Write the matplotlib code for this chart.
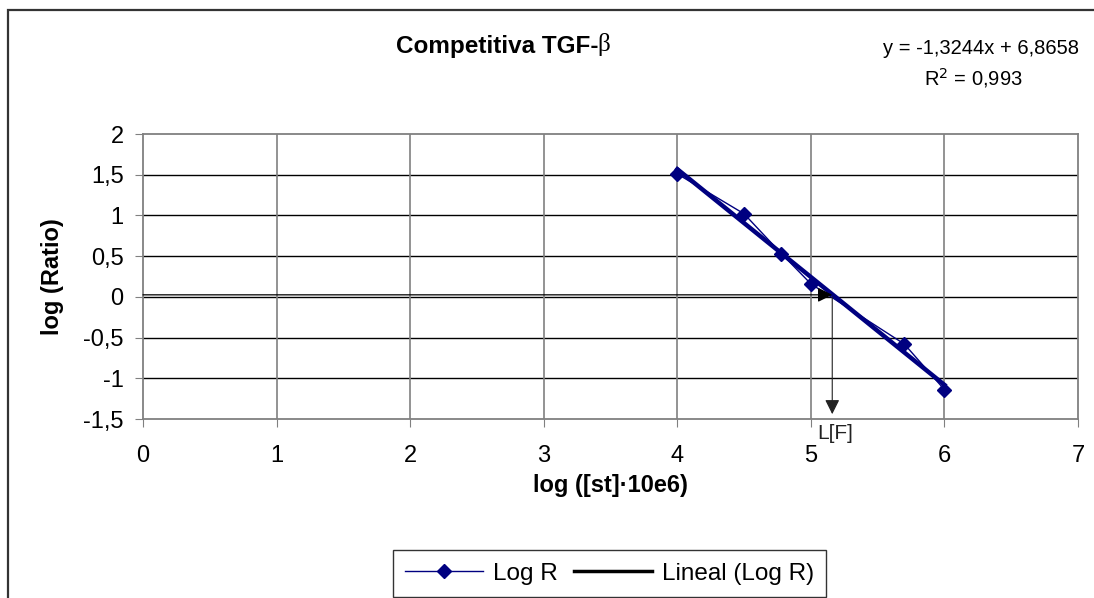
import matplotlib
matplotlib.use('Agg')
import matplotlib.pyplot as plt
from matplotlib.lines import Line2D
from matplotlib.patches import Rectangle

# data
log_st = [4.0, 4.5, 4.78, 5.0, 5.7, 6.0]
log_ratio = [1.51, 1.02, 0.53, 0.16, -0.58, -1.14]
slope = -1.3244
intercept = 6.8658
r2 = 0.993
lf_x = 5.16
x_ticks = [0, 1, 2, 3, 4, 5, 6, 7]
y_ticks = [2, 1.5, 1, 0.5, 0, -0.5, -1, -1.5]

def fmt(v):
    return ('%g' % v).replace('.', ',')

def main() -> int:
    plt.rcParams['font.family'] = ['Liberation Sans', 'DejaVu Sans']
    fig = plt.figure(figsize=(10.94, 5.98), dpi=100)
    ax = fig.add_axes([0.1307, 0.2993, 0.8547, 0.4766])

    # chart area border (cut by the image edge on right / bottom)
    fig.patches.append(Rectangle((8 / 1094, -0.1), 1.2, 1 - 10 / 598 + 0.1,
                                 transform=fig.transFigure, fill=False,
                                 edgecolor='#333333', linewidth=1.6))

    ax.set_xlim(0, 7)
    ax.set_ylim(-1.5, 2)
    ax.set_xticks(x_ticks)
    ax.set_yticks(y_ticks)
    ax.set_xticklabels([fmt(v) for v in x_ticks])
    ax.set_yticklabels([fmt(v) for v in y_ticks])
    ax.tick_params(direction='out', length=6, color='#808080', labelsize=17)
    ax.tick_params(axis='x', pad=13)
    ax.tick_params(axis='y', pad=8)
    for s in ax.spines.values():
        s.set_color('#808080')
        s.set_linewidth(1.3)

    for yv in y_ticks:
        if -1.5 < yv < 2:
            ax.axhline(yv, color='black', linewidth=1.0, zorder=1)
    for xv in x_ticks:
        if 0 < xv < 7:
            ax.axvline(xv, color='#808080', linewidth=1.2, zorder=1)

    ax.plot(log_st, log_ratio, color='#000080', linewidth=1, marker='D',
            markersize=7, zorder=4)
    xs = [log_st[0], log_st[-1]]
    ax.plot(xs, [slope * v + intercept for v in xs], color='#000080',
            linewidth=3.2, zorder=3)

    # arrows to L[F]
    ax.annotate('', xy=(lf_x, 0.025), xytext=(0, 0.025),
                arrowprops=dict(arrowstyle='-|>', color='black', lw=0.9,
                                mutation_scale=22, shrinkA=0, shrinkB=0), zorder=5)
    ax.annotate('', xy=(lf_x, -1.44), xytext=(lf_x, 0.0),
                arrowprops=dict(arrowstyle='-|>', color='#222222', lw=0.8,
                                mutation_scale=22, shrinkA=0, shrinkB=0), zorder=5)
    ax.text(5.05, -1.68, 'L[F]', fontsize=15, color='#222222',
            ha='left', va='center', clip_on=False)

    ax.set_xlabel('log ([st]\u00b710e6)', fontsize=17, fontweight='bold', labelpad=5)
    ax.set_ylabel('log (Ratio)', fontsize=17, fontweight='bold', labelpad=14)

    fig.text(598 / 1094, 1 - 46 / 598, 'Competitiva TGF-', fontsize=17.5,
             fontweight='bold', ha='right', va='center')
    fig.text(597 / 1094, 1 - 44 / 598, '\u03b2', fontsize=18,
             family=['Liberation Serif', 'DejaVu Serif'], ha='left', va='center')
    fig.text(1079 / 1094, 1 - 48 / 598, 'y = %sx + %s' % (fmt(slope), fmt(intercept)),
             fontsize=14.5, ha='right', va='center')
    fig.text(973 / 1094, 1 - 78 / 598, 'R$^2$ = %s' % fmt(r2),
             fontsize=14.5, ha='center', va='center')

    h1 = Line2D([], [], color='#000080', linewidth=1, marker='D', markersize=7)
    h2 = Line2D([], [], color='black', linewidth=2.5)
    leg = fig.legend([h1, h2], ['Log R', 'Lineal (Log R)'], loc='center',
                     bbox_to_anchor=(609.5 / 1094, 1 - 573.5 / 598), ncol=2, fontsize=17.5,
                     frameon=True, fancybox=False, edgecolor='black',
                     handlelength=3.2, columnspacing=0.7, handletextpad=0.4,
                     borderpad=0.5)
    leg.get_frame().set_linewidth(1.0)

    fig.savefig('out.png', dpi=100)
    return 0

if __name__ == '__main__':
    main()
